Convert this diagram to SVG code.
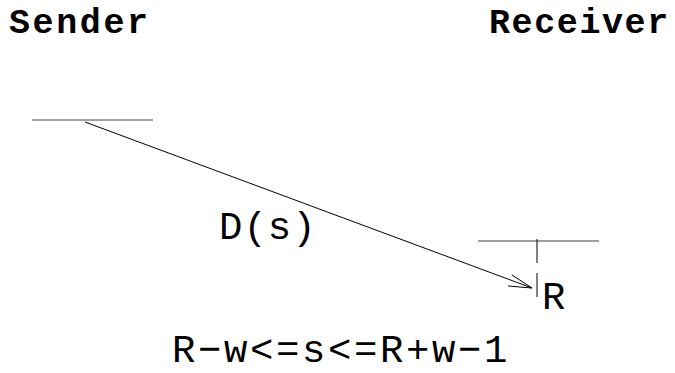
<svg xmlns="http://www.w3.org/2000/svg" width="675" height="373" viewBox="0 0 675 373">
<style>
.t{font-family:"Liberation Mono","Courier New",monospace;fill:#000}
.b{font-weight:bold;font-size:35px}
.n{font-size:39px}
.ln{stroke:#808080;stroke-width:1.5;fill:none}
.k{stroke:#000;stroke-width:1;fill:none}
</style>
<rect width="675" height="373" fill="#fff"/>
<g id="sender">
<text class="t b" x="9" y="33" letter-spacing="2.6">Sender</text>
<line class="ln" x1="32" y1="120" x2="153" y2="120"/>
</g>
<g id="receiver">
<text class="t b" x="489" y="33" letter-spacing="1.6">Receiver</text>
<line class="ln" x1="478" y1="241" x2="599" y2="241"/>
<line class="k" x1="537" y1="239" x2="537" y2="263"/>
<line class="k" x1="537" y1="273" x2="537" y2="297"/>
<text class="t n" x="542" y="309">R</text>
</g>
<g id="connectors">
<line class="k" x1="85" y1="122" x2="532" y2="288"/>
<polyline class="k" points="512,275 532,288 508,286"/>
<text class="t n" x="219" y="239" letter-spacing="1">D(s)</text>
</g>
<text class="t n" x="172" y="362" letter-spacing="2.6">R−w&lt;=s&lt;=R+w−1</text>
</svg>
